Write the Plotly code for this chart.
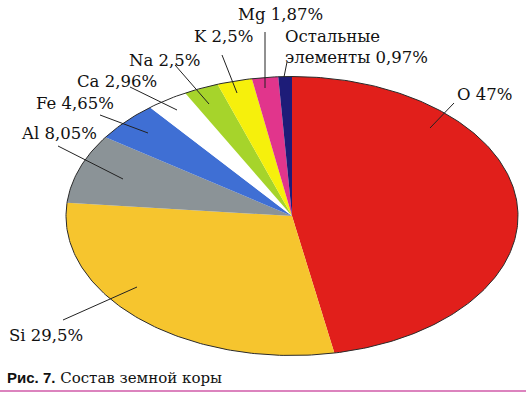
import numpy as np
import plotly.graph_objects as go

# ---- data ----
elements = ["O", "Si", "Al", "Fe", "Ca", "Na", "K", "Mg", "Остальные элементы"]
shares = [47, 29.5, 8.05, 4.65, 2.96, 2.5, 2.5, 1.87, 0.97]
labels = ["O 47%", "Si 29,5%", "Al 8,05%", "Fe 4,65%", "Ca 2,96%",
          "Na 2,5%", "K 2,5%", "Mg 1,87%", "Остальные<br>элементы 0,97%"]
colors = ["#e11f1b", "#f6c52e", "#8b9397", "#3f6fd4", "#ffffff",
          "#a6d42b", "#f6f00c", "#e1358c", "#1d1c78"]

# ellipse geometry (pixel-like axes: x 0..531, y 0..394 downward)
CX, CY, A, B = 292, 216, 226, 139.5

fig = go.Figure()

total = sum(shares)
start = 0.0
for name, val, col in zip(elements, shares, colors):
    end = start + val / total * 2 * np.pi
    t = np.linspace(start, end, max(3, int(val * 4)))
    xs = np.concatenate([[CX], CX + A * np.sin(t), [CX]])
    ys = np.concatenate([[CY], CY - B * np.cos(t), [CY]])
    fig.add_trace(go.Scatter(x=xs, y=ys, mode="lines", fill="toself",
                             fillcolor=col, line=dict(width=0, color=col),
                             name=name, hoverinfo="name", showlegend=False))
    start = end

# outline
tt = np.linspace(0, 2 * np.pi, 400)
fig.add_trace(go.Scatter(x=CX + A * np.sin(tt), y=CY - B * np.cos(tt),
                         mode="lines", line=dict(color="#2a2a2a", width=1),
                         hoverinfo="skip", showlegend=False))

font = dict(family="DejaVu Serif", size=16.5, color="#111111")

# label positions (left x, centre y) and leader lines
label_pos = [(455, 94), (7, 335), (19, 133), (34, 103), (75, 81),
             (127, 60), (192, 36), (236, 14), (283, 47)]
leaders = [((430, 128), (454, 103)), ((63, 320), (137, 287)),
           ((58, 146), (123, 179)), ((100, 115), (148, 133)),
           ((130, 87), (177, 110)), ((175, 65), (209, 104)),
           ((222, 55), (237, 93)), ((265, 32), (265, 88)),
           ((287, 62), (284, 77))]

for lab, (lx, ly) in zip(labels, label_pos):
    fig.add_annotation(x=lx, y=ly, xref="x", yref="y", text=lab,
                       showarrow=False, xanchor="left", yanchor="middle",
                       align="left", font=font)

for (p0, p1) in leaders:
    fig.add_shape(type="line", x0=p0[0], y0=p0[1], x1=p1[0], y1=p1[1],
                  xref="x", yref="y", line=dict(color="#222222", width=1))

# caption
fig.add_annotation(x=5, y=378, xref="x", yref="y",
                   text="<b><span style='font-family:Liberation Sans'>Рис. 7.</span></b> Состав земной коры",
                   showarrow=False, xanchor="left", yanchor="middle",
                   font=dict(family="DejaVu Serif", size=15, color="#111111"))
fig.add_shape(type="line", x0=0, x1=526, y0=391, y1=391, xref="x", yref="y",
              line=dict(color="#d05aa8", width=1.5))

fig.update_layout(
    width=531, height=394, margin=dict(l=0, r=0, t=0, b=0),
    paper_bgcolor="white", plot_bgcolor="white",
    xaxis=dict(range=[0, 531], visible=False, fixedrange=True),
    yaxis=dict(range=[394, 0], visible=False, fixedrange=True),
)

fig.write_html("out.html", config={"displayModeBar": False},
               post_script="document.body.style.margin='0';document.body.style.overflow='hidden';")
